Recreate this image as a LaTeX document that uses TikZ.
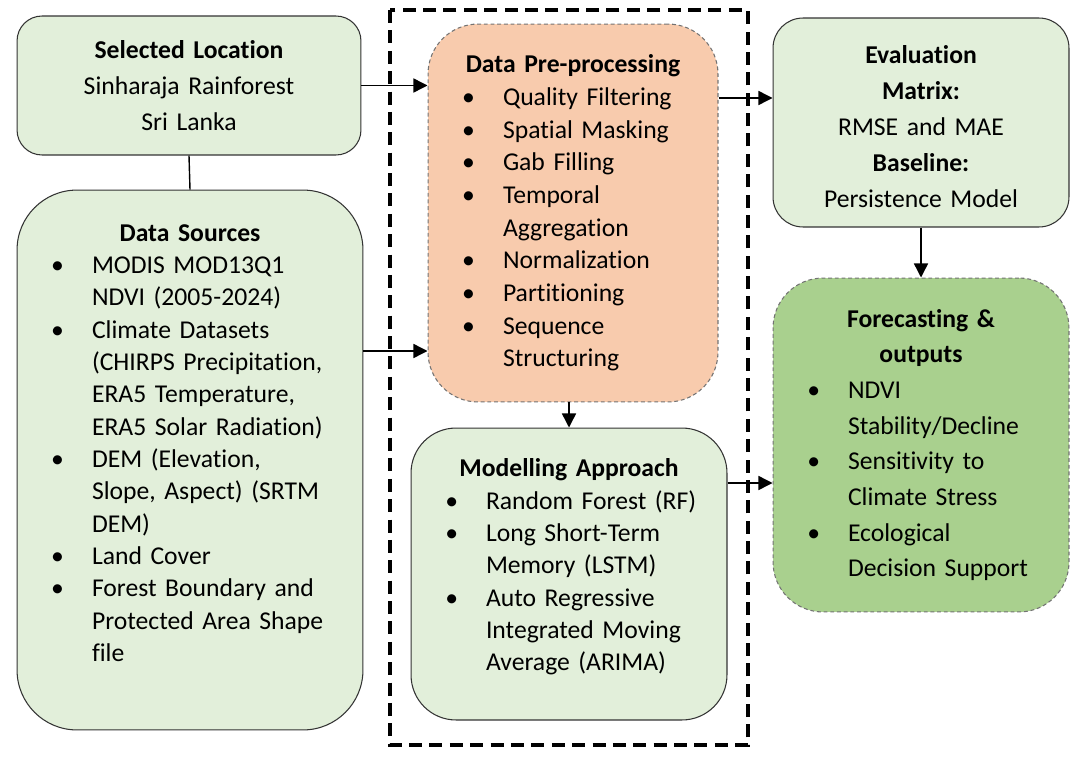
\documentclass[tikz,border=0pt]{standalone}
\usepackage{fontspec}
\setmainfont{Carlito}[Ligatures=NoCommon]
\usepackage{enumitem}
\usetikzlibrary{arrows.meta}
\setlist[itemize]{label=\textbullet,leftmargin=1.5cm,labelsep=0.56cm,itemsep=0pt,topsep=0pt,parsep=0pt,partopsep=0pt}

\definecolor{lgreen}{HTML}{E2EFDA}
\definecolor{dgreen}{HTML}{A9D08E}
\definecolor{peach}{HTML}{F8CBAD}

% 空きを足して文字を上下にずらす
\newcommand\padbelow[1]{\par\vskip#1\hrule height0pt width0pt}
\newcommand\padabove[1]{\hrule height0pt width0pt\vskip#1}

\tikzset{
  box/.style={draw=black!80, line width=0.6pt, fill=lgreen, inner sep=0pt,
    font=\fontsize{14.6}{18.4}\selectfont},
  dbox/.style={box, draw=black!55, dash pattern=on 2.2pt off 1.6pt},
  arr/.style={-{Triangle[length=8pt,width=8pt]}, line width=0.8pt}
}

\begin{document}
\begin{tikzpicture}[x=0.02cm, y=-0.02cm]
  \useasboundingbox (0,0) rectangle (1075,757);

  % 点線の枠
  \draw[line width=1.8pt, dash pattern=on 7.4pt off 4.2pt] (390,10) rectangle (748,745);

  % ノード
  \node[box, rounded corners=0.5cm, text width=6.88cm, minimum height=2.78cm, align=center,
    font=\fontsize{14.6}{20.4}\selectfont] (sel) at (189,85.5)
    {\textbf{Selected Location}\\Sinharaja Rainforest\\Sri Lanka};

  \node[box, rounded corners=1.2cm, text width=6.92cm, minimum height=10.8cm, align=left] (ds) at (190,460)
    {{\centering\bfseries Data Sources\par}
     \begin{itemize}
       \item MODIS MOD13Q1\newline NDVI (2005-2024)
       \item Climate Datasets\newline (CHIRPS Precipitation,\newline ERA5 Temperature,\newline ERA5 Solar Radiation)
       \item DEM (Elevation,\newline Slope, Aspect) (SRTM\newline DEM)
       \item Land Cover
       \item Forest Boundary and\newline Protected Area Shape\newline file
     \end{itemize}\padbelow{0.68cm}};

  \node[dbox, fill=peach, rounded corners=1cm, text width=5.8cm, minimum height=7.56cm, align=left,
    font=\fontsize{14.6}{18.6}\selectfont] (pre) at (573,213)
    {{\centering\bfseries Data Pre-processing\par}
     \begin{itemize}
       \item Quality Filtering
       \item Spatial Masking
       \item Gab Filling
       \item Temporal\newline Aggregation
       \item Normalization
       \item Partitioning
       \item Sequence\newline Structuring
     \end{itemize}};

  \node[box, rounded corners=0.9cm, text width=6.32cm, minimum height=5.84cm, align=left] (mod) at (569,574)
    {{\centering\bfseries Modelling Approach\par}
     \begin{itemize}
       \item Random Forest (RF)
       \item Long Short-Term\newline Memory (LSTM)
       \item Auto Regressive\newline Integrated Moving\newline Average (ARIMA)
     \end{itemize}\padbelow{0.28cm}};

  \node[box, rounded corners=0.6cm, text width=5.92cm, minimum height=4.18cm, align=center,
    font=\fontsize{14.6}{20.4}\selectfont] (eval) at (921,122.5)
    {\padabove{0.16cm}\textbf{Evaluation}\\\textbf{Matrix:}\\RMSE and MAE\\\textbf{Baseline:}\\Persistence Model};

  \node[dbox, fill=dgreen, rounded corners=1cm, text width=5.92cm, minimum height=6.68cm, align=left,
    font=\fontsize{14.6}{20.3}\selectfont] (fc) at (921,445)
    {{\centering\bfseries Forecasting \&\\outputs\par}
     \begin{itemize}
       \item NDVI\newline Stability/Decline
       \item Sensitivity to\newline Climate Stress
       \item Ecological\newline Decision Support
     \end{itemize}};

  % エッジ
  \draw[line width=0.8pt] (sel.south) -- (ds.north);
  \draw[arr] (sel.east) -- (sel.east -| pre.west);
  \draw[arr] (ds.east |- 0,351) -- (pre.west |- 0,351);
  \draw[arr] (pre.east |- 0,98) -- (eval.west |- 0,98);
  \draw[arr] (mod.north |- pre.south) -- (mod.north);
  \draw[arr] (mod.east |- 0,483) -- (fc.west |- 0,483);
  \draw[arr] (eval.south) -- (fc.north);
\end{tikzpicture}
\end{document}
